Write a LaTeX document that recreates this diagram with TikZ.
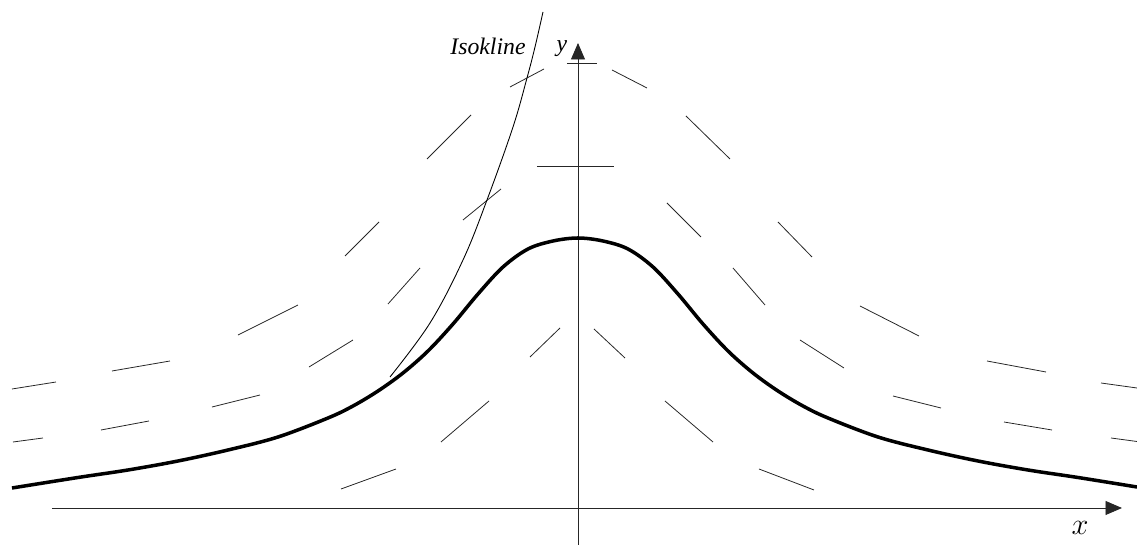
\documentclass[tikz,border=0pt]{standalone}
\usepackage{fontspec}
\setmainfont{Liberation Serif}
\usepackage{tikz}
\usetikzlibrary{arrows.meta}

\begin{document}
\begin{tikzpicture}[
      x=0.2mm, y=0.2mm,
      every node/.style={inner sep=0pt},
      axis/.style={line width=0.5pt, draw=black!85,
                   -{Triangle[length=3.3mm, width=2.8mm]}},
      slope/.style={line width=0.45pt, draw=black!85},
      isoline/.style={line width=0.5pt},
      solution/.style={line width=2pt, line join=round},
      lbl/.style={font=\fontsize{13.5}{16}\selectfont\itshape},
  ]
    \useasboundingbox (-578,-37) rectangle (559,508);

    %% --- axes ---
    \coordinate (O)    at (0,0);
    \coordinate (xbeg) at (-526,0);
    \coordinate (xend) at (544,0);
    \coordinate (ybeg) at (0,-37);
    \coordinate (yend) at (0,465);
    \draw[axis] (xbeg) -- (xend);
    \draw[axis] (ybeg) -- (yend);
    \node (xlab) at (502,-20) {\fontsize{18}{20}\selectfont$x$};
    \node[lbl] (ylab) at (-16,459) {y};

    %% --- direction field (line elements) ---
    \foreach \xa/\ya/\xb/\yb in {
        -566/119/-522/126, -565/66/-535/70,   -466/137/-408/147,
        -477/78/-429/87,   -366/101/-318/113, -340/173/-280/203,
        -269/141/-225/168, -237/19/-182/39,   -137/66/-89/107,
        -48/151/-18/180,   -190/204/-158/240, -151/349/-107/393,
        -115/288/-77/319,  -68/421/-34/439,   -233/252/-199/286,
        -41/342/36/342,    -11/445/19/445,
        34/438/69/420,     108/392/152/349,   200/286/234/251,
        89/305/123/271,    16/179/47/150,     87/107/135/66,
        155/240/187/203,   282/202/341/172,   222/168/266/140,
        315/112/363/100,   409/147/468/136,   426/86/474/78,
        523/125/559/120,   533/70/559/66.5,   181/39/236/18}
      \draw[slope] (\xa,\ya) -- (\xb,\yb);

    %% --- isocline ---
    \draw[isoline] plot[smooth, tension=0.6] coordinates {
        (-188,131) (-148,185) (-115,248) (-91,308) (-65,381)
        (-51,430) (-43,461) (-35,496)};
    \node[lbl] (iso) at (-90,462) {Isokline};

    %% --- integral curve ---
    \draw[solution] plot[smooth, tension=0.55] coordinates {
        (-566,20) (-500,30.5) (-450,38) (-400,47) (-350,58) (-300,71)
        (-250,90) (-225,102) (-200,117) (-175,135) (-150,157)
        (-125,184) (-100,214) (-75,241) (-50,259) (-25,267) (0,270)
        (25,267) (50,259) (75,241) (100,214) (125,184) (150,157)
        (175,135) (200,117) (225,102) (250,90) (300,71) (350,58)
        (400,47) (450,38) (500,30.5) (559,21)};
\end{tikzpicture}
\end{document}
